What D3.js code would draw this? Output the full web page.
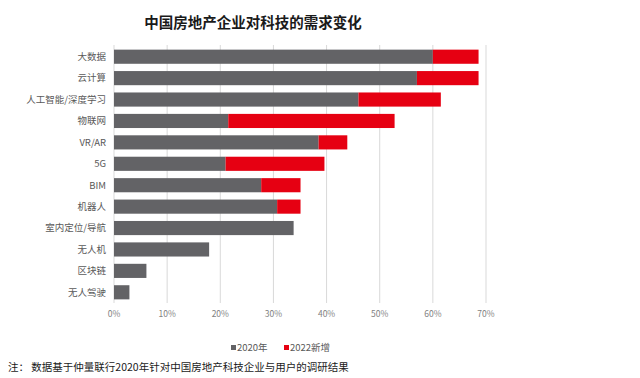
<!DOCTYPE html>
<html><head><meta charset="utf-8">
<script src="https://cdn.jsdelivr.net/npm/d3@7"></script>
<style>body{margin:0;background:#fff}svg{display:block}text{font-family:"Noto Sans CJK SC","Noto Sans",sans-serif}</style>
</head><body><svg id="c" width="640" height="378"></svg>
<script>
const categories = ["大数据","云计算","人工智能/深度学习","物联网","VR/AR","5G","BIM","机器人","室内定位/导航","无人机","区块链","无人驾驶"];
const values2020 = [60, 57, 46, 21.5, 38.5, 21, 27.7, 30.7, 33.8, 17.9, 6.1, 2.9];
const values2022Add = [8.6, 11.6, 15.5, 31.3, 5.4, 18.6, 7.4, 4.4, 0, 0, 0, 0];
const ticks = [0,10,20,30,40,50,60,70];
const seriesNames = ["2020年","2022新增"];
const colors = ["#636366","#e60012"];

const svg = d3.select("#c");
const x = d3.scaleLinear().domain([0,70]).range([114,486]);
const y = d3.scaleBand().domain(categories).range([46,303]).paddingInner(0.34).paddingOuter(0.17);

// gridlines
svg.append("g").selectAll("line").data(ticks).join("line")
  .attr("x1",d=>x(d)).attr("x2",d=>x(d)).attr("y1",45).attr("y2",303)
  .attr("stroke","#d9d9d9").attr("stroke-width",1);

// axis labels
svg.append("g").selectAll("text").data(ticks).join("text")
  .attr("x",d=>x(d)).attr("y",317).attr("text-anchor","middle")
  .attr("font-size",8.5).attr("fill","#7f7f7f").text(d=>d+"%");

// category labels
svg.append("g").selectAll("text").data(categories).join("text")
  .attr("x",106).attr("y",d=>y(d)+y.bandwidth()/2).attr("dy","0.35em")
  .attr("text-anchor","end").attr("font-size",9.5).attr("fill","#595959").text(d=>d);

const rows = categories.map((c,i)=>({c,a:values2020[i],b:values2022Add[i]}));
svg.append("g").selectAll("rect").data(rows).join("rect")
  .attr("x",x(0)).attr("y",d=>y(d.c)).attr("height",y.bandwidth())
  .attr("width",d=>x(d.a)-x(0)).attr("fill",colors[0]);
svg.append("g").selectAll("rect").data(rows.filter(d=>d.b>0)).join("rect")
  .attr("x",d=>x(d.a)).attr("y",d=>y(d.c)).attr("height",y.bandwidth())
  .attr("width",d=>x(d.a+d.b)-x(d.a)).attr("fill",colors[1]);

// title
svg.append("text").attr("x",253).attr("y",28).attr("text-anchor","middle")
  .attr("font-size",14.5).attr("font-weight","bold").attr("fill","#1a1a1a")
  .text("中国房地产企业对科技的需求变化");

// legend
const lg = svg.append("g");
const lx = [231, 284];
seriesNames.forEach((n,i)=>{
  lg.append("rect").attr("x",lx[i]).attr("y",345).attr("width",5).attr("height",5).attr("fill",colors[i]);
  lg.append("text").attr("x",lx[i]+6).attr("y",351).attr("font-size",9.5).attr("fill","#595959").text(n);
});

// note
svg.append("text").attr("x",8).attr("y",370.5).attr("font-size",10.5).attr("fill","#1a1a1a")
  .attr("xml:space","preserve").text("注： 数据基于仲量联行2020年针对中国房地产科技企业与用户的调研结果");
</script></body></html>
